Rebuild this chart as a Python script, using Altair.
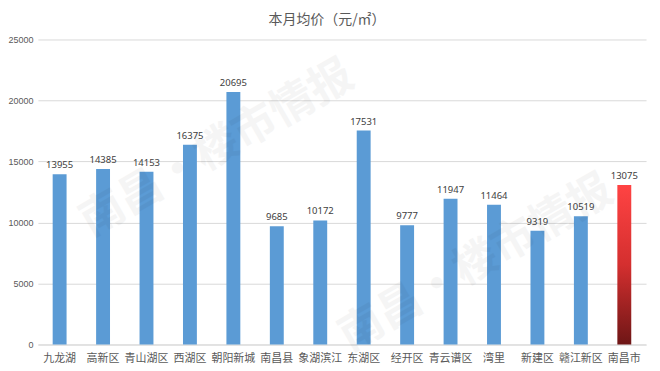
import altair as alt
import pandas as pd

districts = ["九龙湖", "高新区", "青山湖区", "西湖区", "朝阳新城", "南昌县", "象湖滨江",
             "东湖区", "经开区", "青云谱区", "湾里", "新建区", "赣江新区", "南昌市"]
prices = [13955, 14385, 14153, 16375, 20695, 9685, 10172, 17531, 9777, 11947, 11464, 9319, 10519, 13075]
y_ticks = [0, 5000, 10000, 15000, 20000, 25000]
title_text = "本月均价（元/㎡）"

df = pd.DataFrame({"district": districts, "price": prices})
df["city"] = df["district"] == "南昌市"

x = alt.X("district:N", sort=districts, title=None,
          scale=alt.Scale(paddingInner=0.68, paddingOuter=0.34),
          axis=alt.Axis(labelAngle=0, labelColor="#595959", labelFontSize=11,
                        labelFont="Noto Sans CJK SC", ticks=False, domainColor="#d9d9d9",
                        labelPadding=8))
y = alt.Y("price:Q", title=None,
          scale=alt.Scale(domain=[0, 25000], nice=False),
          axis=alt.Axis(values=y_ticks, labelColor="#595959", labelFontSize=9,
                        ticks=False, domain=False, gridColor="#d9d9d9",
                        labelPadding=5, format="d"))

base = alt.Chart(df)

blue = base.transform_filter("!datum.city").mark_bar(color="#5B9BD5").encode(x=x, y=y)
red = base.transform_filter("datum.city").mark_bar(
    color=alt.Gradient(gradient="linear", x1=0, x2=0, y1=0, y2=1,
                       stops=[alt.GradientStop(offset=0, color="#ff4343"),
                              alt.GradientStop(offset=0.5, color="#d42f2f"),
                              alt.GradientStop(offset=1, color="#6e1616")])
).encode(x=x, y=y)
labels = base.mark_text(dy=-9, fontSize=9.5, color="#404040", font="Noto Sans").encode(
    x=x, y=y, text=alt.Text("price:Q", format="d"))

title = alt.Chart(pd.DataFrame({"t": [title_text]})).mark_text(
    fontSize=14, color="#595959", font="Noto Sans CJK SC", align="center", baseline="middle"
).encode(x=alt.value(290), y=alt.value(-20), text="t:N")

wm = pd.DataFrame({"t": ["南昌·楼市情报", "南昌·楼市情报"],
                   "px": [180, 440], "py": [110, 225]})
water = alt.Chart(wm).mark_text(angle=330, fontSize=44, color="#000000", opacity=0.035,
                                 font="Noto Sans CJK SC", fontWeight="bold").encode(
    x=alt.X("px:Q", scale=None), y=alt.Y("py:Q", scale=None), text="t:N")

chart = alt.layer(blue, red, labels, title, water).properties(
    width=610, height=306,
    autosize=alt.AutoSizeParams(type="none"),
    padding={"left": 30, "top": 31, "right": 6, "bottom": 26},
).configure_view(stroke=None)

chart.save("out.html", embed_options={"renderer": "svg", "actions": False})
